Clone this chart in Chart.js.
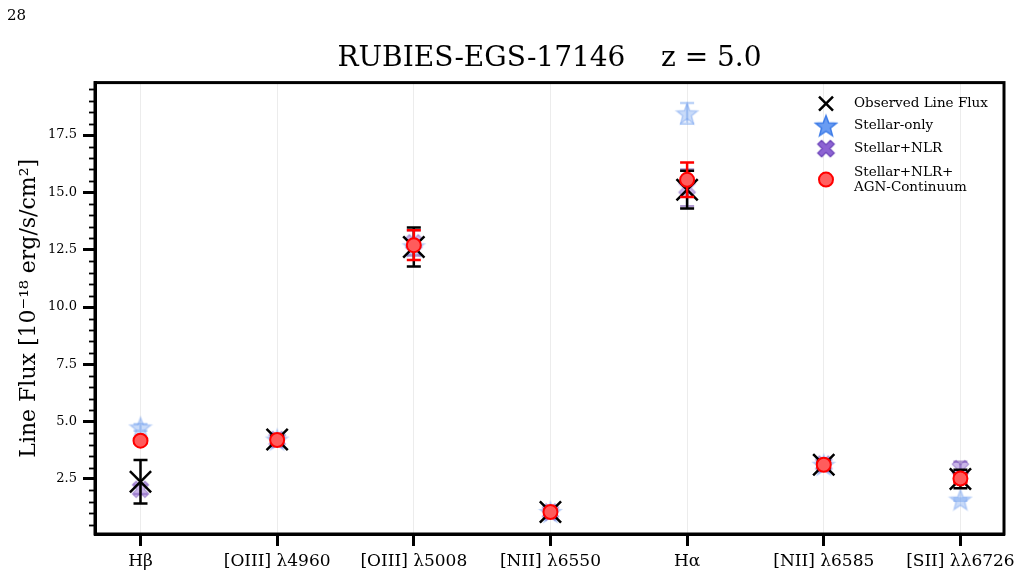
<!DOCTYPE html>
<html>
<head>
<meta charset="utf-8">
<script src="https://cdn.jsdelivr.net/npm/chart.js@4.4.1/dist/chart.umd.min.js"></script>
<style>
  body { margin: 0; background: #fff; }
  #wrap { position: relative; width: 1024px; height: 580px; }
  #pagenum { position: absolute; left: 7px; top: 6px; font: 15px "DejaVu Serif", serif; color: #000; }
</style>
</head>
<body>
<div id="wrap">
  <div id="pagenum">28</div>
  <canvas id="fluxChart"></canvas>
</div>
<script>
// emission lines
const lines = ['Hβ', '[OIII] λ4960', '[OIII] λ5008', '[NII] λ6550', 'Hα', '[NII] λ6585', '[SII] λλ6726'];

// line fluxes [1e-18 erg/s/cm2] and 1-sigma errors
const observed      = [2.38, 4.22, 12.62, 1.06, 15.12, 3.12, 2.5];
const observedErr   = [0.95, 0.15, 0.85, 0.1, 0.82, 0.15, 0.4];
const stellarOnly    = [4.75, 4.22, 12.65, 1.06, 18.45, 3.12, 1.6];
const stellarOnlyErr = [0.15, 0.05, 0.1, 0.05, 0.45, 0.05, 0.05];
const stellarNlr     = [2.05, 4.22, 12.8, 1.06, 15.2, 3.15, 2.95];
const stellarNlrErr  = [0.2, 0.05, 0.55, 0.05, 0.8, 0.1, 0.3];
const stellarNlrAgn    = [4.17, 4.2, 12.7, 1.06, 15.55, 3.12, 2.52];
const stellarNlrAgnErr = [0.1, 0.05, 0.65, 0.05, 0.75, 0.1, 0.2];

const yMajor = [2.5, 5.0, 7.5, 10.0, 12.5, 15.0, 17.5];

const SERIF = '"DejaVu Serif", "Liberation Serif", serif';

// marker images
function makeStar(r, fill, stroke) {
  const c = document.createElement('canvas');
  const s = Math.ceil(r * 2 + 4);
  c.width = s; c.height = s;
  const g = c.getContext('2d');
  g.translate(s / 2, s / 2 + r * 0.1);
  g.beginPath();
  for (let i = 0; i < 10; i++) {
    const rr = i % 2 === 0 ? r : r * 0.42;
    const a = -Math.PI / 2 + i * Math.PI / 5;
    g.lineTo(rr * Math.cos(a), rr * Math.sin(a));
  }
  g.closePath();
  g.fillStyle = fill; g.fill();
  g.lineWidth = 1.5; g.strokeStyle = stroke; g.stroke();
  return c;
}

function makeFatX(r, fill, stroke) {
  const c = document.createElement('canvas');
  const s = Math.ceil(r * 2 + 4);
  c.width = s; c.height = s;
  const g = c.getContext('2d');
  g.translate(s / 2, s / 2);
  g.rotate(Math.PI / 4);
  const L = r * 1.05, w = r * 0.32;
  const pts = [[w, L], [w, w], [L, w], [L, -w], [w, -w], [w, -L], [-w, -L], [-w, -w], [-L, -w], [-L, w], [-w, w], [-w, L]];
  g.beginPath();
  pts.forEach(p => g.lineTo(p[0], p[1]));
  g.closePath();
  g.fillStyle = fill; g.fill();
  g.lineWidth = 1.2; g.strokeStyle = stroke; g.stroke();
  return c;
}

const starPlot = makeStar(11, 'rgba(120,165,240,0.4)', 'rgba(90,140,235,0.35)');
const starLegend = makeStar(11, '#6a9cf2', '#3f7de8');
const xPlot = makeFatX(8.5, 'rgba(150,110,210,0.5)', 'rgba(110,70,180,0.45)');
const xLegend = makeFatX(8.5, '#8d63d3', '#6a42b8');

function toPoints(vals) {
  return vals.map((v, i) => ({ x: i, y: v }));
}

// error bars, drawn just before each dataset's markers
const errorBars = {
  id: 'errorBars',
  beforeDatasetDraw(chart, args) {
    const ds = chart.data.datasets[args.index];
    if (!ds.errors) return;
    const xs = chart.scales.x, ys = chart.scales.y;
    const ctx = chart.ctx;
    ctx.save();
    ctx.strokeStyle = ds.errColor;
    ctx.lineWidth = 2.5;
    ds.data.forEach((p, i) => {
      const px = xs.getPixelForValue(p.x);
      const top = ys.getPixelForValue(p.y + ds.errors[i]);
      const bot = ys.getPixelForValue(p.y - ds.errors[i]);
      ctx.beginPath();
      ctx.moveTo(px, top); ctx.lineTo(px, bot);
      ctx.moveTo(px - 7, top); ctx.lineTo(px + 7, top);
      ctx.moveTo(px - 7, bot); ctx.lineTo(px + 7, bot);
      ctx.stroke();
    });
    ctx.restore();
  }
};

// frame, minor ticks and legend
const frame = {
  id: 'frame',
  afterDraw(chart) {
    const ctx = chart.ctx;
    const a = chart.chartArea;
    const ys = chart.scales.y;
    ctx.save();
    ctx.strokeStyle = '#000';
    ctx.lineWidth = 3;
    ctx.strokeRect(a.left, a.top, a.right - a.left, a.bottom - a.top);

    ctx.lineWidth = 1.8;
    for (let v = 0.5; v < ys.max; v += 0.5) {
      if (v < ys.min || Math.abs(v / 2.5 - Math.round(v / 2.5)) < 1e-6) continue;
      const py = Math.round(ys.getPixelForValue(v)) + 0.5;
      ctx.beginPath();
      ctx.moveTo(a.left - 6, py); ctx.lineTo(a.left, py);
      ctx.stroke();
    }

    // legend
    const mx = a.right - 178, tx = a.right - 150;
    const rows = [
      { y: a.top + 21, text: ['Observed Line Flux'], mark: 'x' },
      { y: a.top + 43, text: ['Stellar-only'], mark: starLegend },
      { y: a.top + 66, text: ['Stellar+NLR'], mark: xLegend },
      { y: a.top + 97, text: ['Stellar+NLR+', 'AGN-Continuum'], mark: 'circle' }
    ];
    ctx.font = '13.5px ' + SERIF;
    ctx.fillStyle = '#000';
    ctx.textBaseline = 'middle';
    rows.forEach(r => {
      if (r.mark === 'x') {
        ctx.strokeStyle = '#000'; ctx.lineWidth = 2.5;
        ctx.beginPath();
        ctx.moveTo(mx - 7, r.y - 7); ctx.lineTo(mx + 7, r.y + 7);
        ctx.moveTo(mx + 7, r.y - 7); ctx.lineTo(mx - 7, r.y + 7);
        ctx.stroke();
      } else if (r.mark === 'circle') {
        ctx.beginPath();
        ctx.arc(mx, r.y, 7, 0, Math.PI * 2);
        ctx.fillStyle = '#ff6060'; ctx.fill();
        ctx.strokeStyle = '#ff0000'; ctx.lineWidth = 2; ctx.stroke();
        ctx.fillStyle = '#000';
      } else {
        ctx.drawImage(r.mark, mx - r.mark.width / 2, r.y - r.mark.height / 2);
      }
      const n = r.text.length;
      r.text.forEach((t, k) => {
        ctx.fillText(t, tx, r.y + (k - (n - 1) / 2) * 15);
      });
    });
    ctx.restore();
  }
};

const ctx = document.getElementById('fluxChart').getContext('2d');
const fluxChart = new Chart(ctx, {
  type: 'scatter',
  data: {
    datasets: [
      {
        label: 'Observed Line Flux',
        data: toPoints(observed),
        errors: observedErr,
        errColor: '#000',
        pointStyle: 'crossRot',
        pointRadius: 15,
        pointHoverRadius: 15,
        borderColor: '#000',
        borderWidth: 2.5,
        order: 2
      },
      {
        label: 'Stellar-only',
        data: toPoints(stellarOnly),
        errors: stellarOnlyErr,
        errColor: 'rgba(110,160,240,0.45)',
        pointStyle: starPlot,
        order: 4
      },
      {
        label: 'Stellar+NLR',
        data: toPoints(stellarNlr),
        errors: stellarNlrErr,
        errColor: 'rgba(110,70,170,0.55)',
        pointStyle: xPlot,
        order: 3
      },
      {
        label: 'Stellar+NLR+AGN-Continuum',
        data: toPoints(stellarNlrAgn),
        errors: stellarNlrAgnErr,
        errColor: '#ff0000',
        pointStyle: 'circle',
        pointRadius: 7,
        pointHoverRadius: 7,
        backgroundColor: '#ff5c5c',
        borderColor: '#ff0000',
        borderWidth: 2,
        order: 1
      }
    ]
  },
  options: {
    responsive: true,
    maintainAspectRatio: false,
    animation: false,
    layout: { padding: { left: 0, right: 20, top: 0, bottom: 0 } },
    plugins: {
      legend: { display: false },
      tooltip: { enabled: false },
      title: {
        display: true,
        fullSize: false,
        text: 'RUBIES-EGS-17146    z = 5.0',
        color: '#000',
        font: { family: SERIF, size: 28, weight: 'normal' },
        padding: { top: 42, bottom: 7 }
      }
    },
    scales: {
      x: {
        type: 'linear',
        min: -0.333,
        max: 6.319,
        afterBuildTicks: (scale) => { scale.ticks = lines.map((l, i) => ({ value: i })); },
        afterFit: (scale) => { scale.height = 46; },
        ticks: {
          color: '#000',
          font: { family: SERIF, size: 17 },
          padding: 5,
          maxRotation: 0,
          autoSkip: false,
          callback: (v) => lines[v]
        },
        grid: { color: '#ececec', lineWidth: 1, tickLength: 12, tickColor: '#000', tickWidth: 3 },
        border: { color: '#000', width: 3 }
      },
      y: {
        min: 0.1,
        max: 19.79,
        afterBuildTicks: (scale) => { scale.ticks = yMajor.map(v => ({ value: v })); },
        afterFit: (scale) => { scale.width = 95; },
        ticks: {
          color: '#000',
          font: { family: SERIF, size: 13 },
          padding: 6,
          callback: (v) => v.toFixed(1)
        },
        grid: { drawOnChartArea: false, tickLength: 12, tickColor: '#000', tickWidth: 3 },
        border: { color: '#000', width: 3 },
        title: {
          display: true,
          text: 'Line Flux [10⁻¹⁸ erg/s/cm²]',
          color: '#000',
          font: { family: SERIF, size: 22 },
          padding: { top: 16, bottom: 0 }
        }
      }
    }
  },
  plugins: [errorBars, frame]
});
</script>
</body>
</html>
